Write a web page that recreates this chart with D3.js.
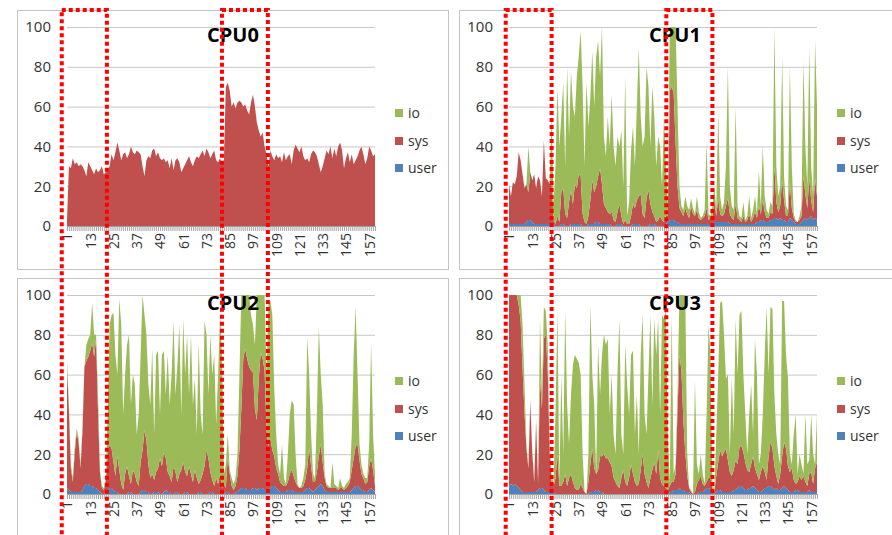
<!DOCTYPE html>
<html>
<head>
<meta charset="utf-8">
<script src="https://cdn.jsdelivr.net/npm/d3@7"></script>
<style>
  body { margin: 0; background: #fff; }
  text { font-family: "Open Sans", sans-serif; }
</style>
</head>
<body>
<script>
var categories = d3.range(1, 161);
var tickLabels = [1, 13, 25, 37, 49, 61, 73, 85, 97, 109, 121, 133, 145, 157];
var yTicks = [0, 20, 40, 60, 80, 100];
var legendOrder = ["io", "sys", "user"];
var colors = {io: "#9bbb59", sys: "#c0504d", user: "#4f81bd"};

var cpu0User = [
  0,0,0,0,0,0,0,0,0,0, 0,0,0,0,0,0,0,0,0,0, 0,0,0,0,0,0,0,0,0,0, 0,0,0,0,0,0,0,0,0,0,
  0,0,0,0,0,0,0,0,0,0, 0,0,0,0,0,0,0,0,0,0, 0,0,0,0,0,0,0,0,0,0, 0,0,0,0,0,0,0,0,0,0,
  0,0,0,0,0,0,0,0,0,0, 0,0,0,0,0,0,0,0,0,0, 0,0,0,0,0,0,0,0,0,0, 0,0,0,0,0,0,0,0,0,0,
  0,0,0,0,0,0,0,0,0,0, 0,0,0,0,0,0,0,0,0,0, 0,0,0,0,0,0,0,0,0,0, 0,0,0,0,0,0,0,0,0,0];
var cpu0Sys = [
  3,30,29,34,31,32,30,31,30,28, 25,32,30,28,26,29,27,28,30,26,
  27,28,30,36,33,37,42,38,33,36, 37,34,36,40,37,36,38,37,36,30,
  25,33,35,34,38,39,35,37,34,33, 34,32,33,29,34,28,33,34,32,27,
  29,31,33,35,32,30,33,35,34,36, 38,35,39,37,34,36,38,33,32,34,
  31,33,70,72,68,60,62,59,62,63, 62,60,61,58,56,62,66,60,52,48,
  45,47,40,36,30,38,35,33,36,34, 35,32,37,33,35,36,31,38,41,39,
  37,40,35,33,34,32,36,38,37,35, 31,27,30,34,38,36,40,34,39,35,
  40,42,38,29,34,37,32,36,31,33, 35,38,40,36,31,34,40,38,35,36];
var cpu0Io = [
  0,0,0,0,0,0,0,0,0,0, 0,0,0,0,0,0,0,0,0,0, 0,0,0,0,0,0,0,0,0,0, 0,0,0,0,0,0,0,0,0,0,
  0,0,0,0,0,0,0,0,0,0, 0,0,0,0,0,0,0,0,0,0, 0,0,0,0,0,0,0,0,0,0, 0,0,0,0,0,0,0,0,0,0,
  0,0,0,0,0,0,0,0,0,0, 0,0,0,0,0,0,0,0,0,0, 0,0,0,0,0,0,0,0,0,0, 0,0,0,0,0,0,0,0,0,0,
  0,0,0,0,0,0,0,0,0,0, 0,0,0,0,0,0,0,0,0,0, 0,0,0,0,0,0,0,0,0,0, 0,0,0,0,0,0,0,0,0,0];

var cpu1User = [
  1,1,1,1,1,1,1,1,1,2, 3,3,2,1,1,1,1,1,1,1, 1,1,1,1,0,0,0,1,1,0, 0,0,1,1,1,1,1,1,0,0,
  0,1,1,1,1,2,2,1,1,1, 1,1,1,0,0,0,1,1,1,0, 0,0,0,0,1,1,1,1,0,0, 0,0,0,1,1,1,0,0,0,0,
  0,1,2,3,3,3,2,2,1,1, 1,1,1,1,1,1,1,1,1,1, 1,1,1,1,1,1,2,2,2,2, 2,2,2,2,1,1,1,1,1,1,
  1,1,1,1,1,1,1,1,2,2, 3,3,2,2,2,3,3,4,4,3, 4,3,3,2,2,4,3,2,1,1, 1,2,3,4,3,4,5,3,4,3];
var cpu1Sys = [
  20,14,21,20,24,36,32,25,18,19, 14,24,21,25,18,24,22,14,42,23,
  22,20,21,2,1,5,2,16,18,6, 4,12,17,10,20,18,25,24,6,2,
  1,4,12,22,16,18,23,28,20,10, 8,6,5,7,3,2,6,10,4,1,
  3,1,1,5,10,8,12,14,16,6, 4,14,18,10,6,4,2,3,5,3,
  2,4,3,65,67,64,40,18,8,6, 4,8,5,3,9,5,4,7,3,2,
  3,4,8,2,3,4,10,3,12,4, 3,4,8,12,5,3,2,10,3,2,
  1,4,1,2,5,1,3,6,2,8, 3,10,5,2,2,4,3,26,8,4,
  6,20,10,3,3,18,6,2,1,1, 2,3,22,12,6,20,8,4,20,12];
var cpu1Io = [
  0,0,0,0,0,0,0,0,0,0, 23,0,0,0,0,0,0,0,0,0,
  0,0,34,7,29,65,38,38,53,24, 76,33,60,49,34,56,59,73,64,28,
  72,45,52,65,43,65,68,46,79,34, 26,48,34,59,37,28,38,29,43,19,
  72,4,11,33,39,21,47,75,39,34, 41,66,52,29,63,50,28,42,35,17,
  53,25,5,32,30,33,58,40,11,3, 3,6,4,4,4,3,1,7,3,1,
  1,3,33,3,1,5,8,3,44,9, 3,6,20,66,14,6,5,49,6,2,
  2,7,1,2,9,2,4,8,2,18, 4,27,8,4,2,5,4,70,18,8,
  10,62,12,5,3,58,21,2,1,0, 2,5,58,24,11,66,17,8,69,45];

var cpu2User = [
  3,2,1,1,1,1,1,1,2,4, 5,5,4,4,3,3,2,1,0,0, 1,2,3,3,2,1,1,0,0,0, 0,0,1,1,0,0,0,0,1,2,
  2,1,1,0,0,1,1,1,0,0, 1,2,1,1,0,0,1,1,0,0, 0,1,1,0,0,0,0,0,1,1, 0,0,0,0,1,1,0,0,0,0,
  0,0,1,1,0,0,0,1,1,2, 3,3,3,2,2,2,3,3,2,3, 3,3,2,2,2,3,4,4,3,2, 1,1,1,1,2,2,2,1,1,1,
  1,1,1,2,3,3,2,1,2,3, 4,5,4,2,1,1,1,1,1,1, 1,1,1,1,1,1,1,2,3,4, 4,3,2,2,1,1,2,3,2,1];
var cpu2Sys = [
  60,40,12,5,20,30,25,12,30,60, 62,64,68,72,66,75,40,10,3,2,
  5,18,22,20,14,8,18,12,5,2, 10,14,8,4,12,10,6,4,15,20,
  30,26,14,8,10,6,10,12,18,14, 20,16,10,8,6,14,10,5,10,12,
  16,10,8,14,10,6,12,8,4,6, 10,14,22,18,10,6,4,8,5,10,
  3,5,2,18,10,4,2,3,8,20, 40,65,70,66,62,60,58,40,35,55,
  68,65,60,30,22,25,18,15,10,8, 5,4,3,3,4,8,10,8,5,3,
  2,2,3,5,10,20,12,5,4,8, 15,20,12,6,3,2,2,2,2,2,
  1,2,2,1,2,3,5,10,15,20, 21,14,8,6,4,5,12,15,10,3];
var cpu2Io = [
  4,3,2,2,3,2,2,2,3,0, 8,9,8,20,11,2,8,1,1,1,
  2,20,60,67,75,61,41,86,80,38, 50,61,71,40,48,45,24,36,54,78,
  58,53,40,37,63,23,59,59,22,56, 51,32,59,36,54,73,39,59,75,28,
  72,49,71,36,70,39,46,22,71,33, 20,73,58,32,69,53,66,27,55,80,
  67,5,12,11,2,4,3,4,11,38, 57,32,27,32,36,28,24,32,63,42,
  29,32,38,28,72,69,68,34,17,5, 4,20,4,1,14,30,35,36,14,1,
  0,1,4,8,66,37,16,4,2,29, 65,35,29,2,1,1,0,13,2,1,
  1,5,1,1,2,2,2,18,52,70, 35,8,5,2,3,2,11,58,18,6];

var cpu3User = [
  4,5,4,5,4,3,2,1,1,1, 1,1,1,1,1,2,3,3,2,1, 1,1,1,1,0,0,0,0,0,0, 0,0,0,0,0,0,0,0,0,0,
  0,0,1,1,1,2,2,1,1,0, 0,0,0,0,0,0,0,0,0,0, 0,0,0,0,0,0,0,0,0,0, 0,0,0,0,0,0,0,0,0,0,
  0,0,0,1,1,2,2,2,3,2, 2,1,1,1,0,0,0,0,1,1, 1,2,3,3,2,1,0,1,2,2, 1,1,1,1,1,1,2,2,3,4,
  4,3,2,2,3,3,4,3,2,1, 1,2,3,3,4,4,3,2,3,2, 2,3,4,3,2,1,1,1,2,2, 1,1,1,1,1,2,1,1,1,1];
var cpu3Sys = [
  96,95,96,95,96,92,85,62,40,22, 12,45,20,5,35,3,55,40,76,79,
  60,20,5,3,8,20,4,4,6,10, 4,8,10,6,3,2,2,5,3,1,
  0,6,14,22,12,8,10,18,18,20, 18,18,16,14,8,6,4,3,8,12,
  6,4,8,15,10,6,4,5,12,20, 10,6,3,8,12,16,10,22,8,5,
  4,3,2,3,5,4,8,40,67,60, 35,20,8,2,1,0,1,5,6,8,
  4,2,3,5,6,2,1,8,14,20, 18,20,22,16,10,8,10,15,12,20,
  20,18,14,10,8,12,15,10,8,6, 10,12,8,4,15,22,20,12,6,3,
  8,16,22,20,12,10,12,6,3,4, 8,6,8,5,3,8,10,4,12,15];
var cpu3Io = [
  0,0,0,0,0,5,13,22,14,2, 1,2,1,2,2,0,30,7,16,12,
  14,4,4,1,32,72,1,56,14,82, 41,17,40,59,67,66,64,55,17,0,
  0,14,80,37,32,0,63,31,51,60, 57,60,24,46,22,14,56,85,22,8,
  69,51,32,55,62,24,46,15,58,70, 30,24,57,82,33,72,60,66,32,85,
  84,89,28,1,84,4,5,8,30,38, 63,79,11,0,1,0,56,10,3,11,
  5,1,34,77,62,2,1,21,44,74, 78,59,35,43,9,49,18,71,45,66,
  68,39,24,8,29,40,11,65,50,8, 9,26,59,87,41,68,70,36,21,15,
  5,78,71,47,44,9,2,23,35,4, 11,8,1,34,11,7,29,15,2,24];

// red dotted boxes, in category units, one list per column
var marksLeft = [[-1.7, 21.6], [81, 104.7]];
var marksRight = [[-0.7, 23], [82.2, 106]];

var panels = [
  {title: "CPU0", left: 17, top: 10, height: 259, user: cpu0User, sys: cpu0Sys, io: cpu0Io},
  {title: "CPU1", left: 459, top: 10, height: 259, user: cpu1User, sys: cpu1Sys, io: cpu1Io},
  {title: "CPU2", left: 17, top: 278, height: 300, user: cpu2User, sys: cpu2Sys, io: cpu2Io},
  {title: "CPU3", left: 459, top: 278, height: 300, user: cpu3User, sys: cpu3Sys, io: cpu3Io}
];

var svg = d3.select("body").append("svg")
  .attr("width", 892)
  .attr("height", 535)

function makeX(left) {
  return d3.scaleLinear().domain([1, 160]).range([left + 50, left + 358]);
}

var stack = d3.stack().keys(["user", "sys", "io"]);

panels.forEach(function(p) {
  var g = svg.append("g");
  var xScale = makeX(p.left);
  var yScale = d3.scaleLinear().domain([0, 100]).range([p.top + 216, p.top + 17]);
  var plotLeft = xScale.range()[0], plotRight = xScale.range()[1];

  g.append("rect")
    .attr("x", p.left + 0.5)
    .attr("y", p.top + 0.5)
    .attr("width", p.left > 400 ? 460 : 431)
    .attr("height", p.height)
    .attr("fill", "#fff")
    .attr("stroke", "#c4c4c4")

  var yAxis = g.append("g")
    .attr("transform", "translate(" + plotLeft + ",0)")
    .call(d3.axisLeft(yScale).tickValues(yTicks).tickSize(-(plotRight - plotLeft)).tickPadding(16));
  yAxis.select(".domain").remove();
  yAxis.selectAll("line").attr("stroke", "#c8c8c8");
  yAxis.selectAll("text")
    .attr("font-size", 15)
    .attr("fill", "#333")
    .style("font-family", "Open Sans");

  var rows = categories.map(function(c, i) {
    return {cat: c, user: p.user[i], sys: p.sys[i], io: p.io[i]};
  });

  var area = d3.area()
    .x(function(d) { return xScale(d.data.cat); })
    .y0(function(d) { return yScale(d[0]); })
    .y1(function(d) { return yScale(d[1]); });

  g.append("g").selectAll("path")
    .data(stack(rows))
    .enter()
    .append("path")
    .attr("d", area)
    .attr("fill", function(d) { return colors[d.key]; })

  var comb = g.append("g")
    .attr("transform", "translate(0," + yScale(0) + ")")
    .call(d3.axisBottom(xScale).tickValues(categories).tickSize(5).tickFormat(""));
  comb.selectAll("line").attr("stroke", "#a8a8a8");
  comb.select(".domain").attr("stroke", "#9a9a9a");

  var xLabels = g.append("g")
    .attr("transform", "translate(0," + yScale(0) + ")")
    .call(d3.axisBottom(xScale).tickValues(tickLabels).tickSize(0));
  xLabels.select(".domain").remove();
  xLabels.selectAll("text")
    .attr("transform", "rotate(-90)")
    .attr("text-anchor", "end")
    .attr("x", -7)
    .attr("y", 0)
    .attr("dy", ".35em")
    .attr("font-size", 14)
    .attr("fill", "#333")
    .style("font-family", "Open Sans");

  var legendY = {io: 103, sys: 131, user: 158};
  legendOrder.forEach(function(k) {
    g.append("rect")
      .attr("x", p.left + 378)
      .attr("y", p.top + legendY[k] - 4)
      .attr("width", 8)
      .attr("height", 8)
      .attr("fill", colors[k])
    g.append("text")
      .attr("x", p.left + 391)
      .attr("y", p.top + legendY[k])
      .attr("dy", ".35em")
      .attr("font-size", 14)
      .attr("fill", "#333")
      .text(k)
  });

  g.append("text")
    .attr("x", p.left + 216)
    .attr("y", p.top + 32)
    .attr("text-anchor", "middle")
    .attr("font-size", 20)
    .attr("font-weight", "bold")
    .attr("fill", "#000")
    .text(p.title)
});

[[17, marksLeft], [459, marksRight]].forEach(function(col) {
  var xs = makeX(col[0]);
  svg.append("g").selectAll("rect")
    .data(col[1])
    .enter()
    .append("rect")
    .attr("x", function(d) { return xs(d[0]); })
    .attr("y", 10)
    .attr("width", function(d) { return xs(d[1]) - xs(d[0]); })
    .attr("height", 560)
    .attr("fill", "none")
    .attr("stroke", "#ff0000")
    .attr("stroke-width", 4)
    .attr("stroke-dasharray", "4,3")
});
</script>
</body>
</html>
